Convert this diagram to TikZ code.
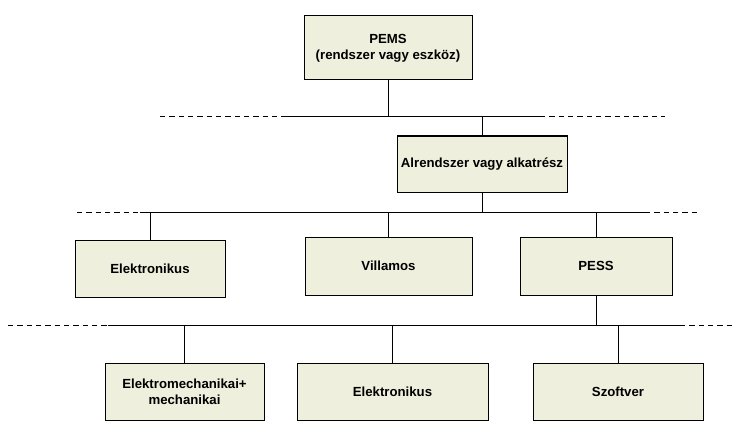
\documentclass[tikz,border=0pt]{standalone}
\usepackage{fontspec}
\setmainfont{Liberation Sans}
\usepackage{tikz}
\usetikzlibrary{calc}
\definecolor{boxfill}{HTML}{EEEFDC}
\tikzset{
  blk/.style={draw=black,fill=boxfill,line width=0.75pt,inner sep=0pt,align=center,font=\bfseries\fontsize{9.9}{12}\selectfont},
  bus/.style={draw=black,line width=0.75pt},
  dbus/.style={draw=black,line width=0.75pt,dash pattern=on 4pt off 3pt},
  link/.style={draw=black,line width=0.75pt},
}
\begin{document}
\begin{tikzpicture}[x=0.75pt,y=-0.75pt]
\useasboundingbox (0,0) rectangle (741,431);
% boxes
\node[blk,minimum width=126pt,minimum height=48pt] (pems) at (388,48) {PEMS\\(rendszer vagy eszköz)};
\node[blk,minimum width=127.5pt,minimum height=42pt] (alr) at (482,164) {Alrendszer vagy alkatrész};
\node[blk,minimum width=112.5pt,minimum height=42.75pt] (elek) at (150,268.5) {Elektronikus};
\node[blk,minimum width=125.25pt,minimum height=43.5pt] (vill) at (388.5,266) {Villamos};
\node[blk,minimum width=114pt,minimum height=43.5pt] (pess) at (596,266) {PESS};
\node[blk,minimum width=119.25pt,minimum height=42.75pt] (emech) at (184.5,391.5) {Elektromechanikai+\\mechanikai};
\node[blk,minimum width=143.25pt,minimum height=42.75pt] (elek2) at (392.5,391.5) {Elektronikus};
\node[blk,minimum width=127.5pt,minimum height=42.75pt] (szoft) at (618,391.5) {Szoftver};
% level 1
\coordinate (b1l) at (160,117); \coordinate (b1a) at (285,117);
\coordinate (b1b) at (540,117); \coordinate (b1r) at (665,117);
\draw[dbus] (b1l) -- (b1a); \draw[bus] (b1a) -- (b1b); \draw[dbus] (b1b) -- (b1r);
\draw[link] (pems.south) -- (pems.south |- b1a);
\draw[link] (alr.north) -- (alr.north |- b1a);
% level 2
\coordinate (b2l) at (77,212); \coordinate (b2a) at (140,212);
\coordinate (b2b) at (645,212); \coordinate (b2r) at (700,212);
\draw[dbus] (b2l) -- (b2a); \draw[bus] (b2a) -- (b2b); \draw[dbus] (b2b) -- (b2r);
\draw[link] (alr.south) -- (alr.south |- b2a);
\foreach \n in {elek,vill,pess}{\draw[link] (\n.north) -- (\n.north |- b2a);}
% level 3
\coordinate (b3l) at (8,325); \coordinate (b3a) at (108,325);
\coordinate (b3b) at (680,325); \coordinate (b3r) at (735,325);
\draw[dbus] (b3l) -- (b3a); \draw[bus] (b3a) -- (b3b); \draw[dbus] (b3b) -- (b3r);
\draw[link] (pess.south) -- (pess.south |- b3a);
\foreach \n in {emech,elek2,szoft}{\draw[link] (\n.north) -- (\n.north |- b3a);}
\end{tikzpicture}
\end{document}
